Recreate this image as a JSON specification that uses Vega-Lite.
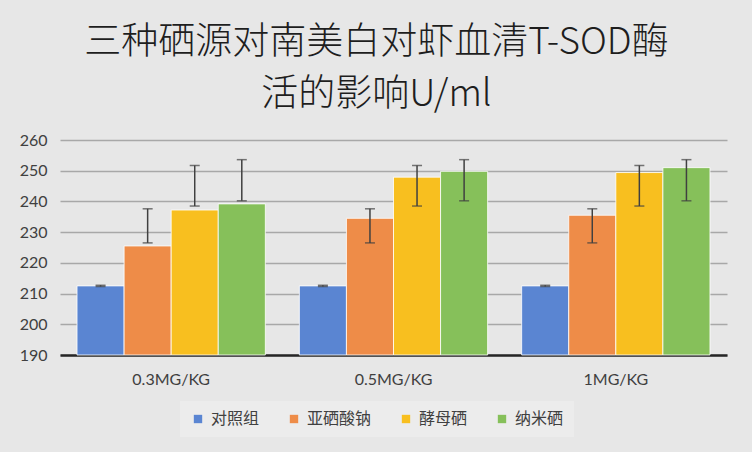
{
  "$schema": "https://vega.github.io/schema/vega-lite/v6.json",
  "width": 667,
  "height": 215,
  "autosize": {"type": "none"},
  "padding": {"left": 60, "top": 140, "right": 25, "bottom": 97},
  "background": "#e7e7e7",
  "title": {
    "text": ["三种硒源对南美白对虾血清T-SOD酶", "活的影响U/ml"],
    "font": "Noto Sans CJK SC",
    "fontSize": 37,
    "fontWeight": 300,
    "color": "#1e1e1e",
    "anchor": "middle",
    "frame": "group",
    "dx": -17,
    "offset": 18,
    "lineHeight": 52
  },
  "config": {
    "view": {"stroke": null},
    "axis": {"labelFont": "Lato", "labelFontSize": 16, "labelColor": "#404040"}
  },
  "data": {
    "values": [
      {"dose": "0.3MG/KG", "group": "对照组", "value": 212.5, "lo": 212.3, "hi": 212.7},
      {"dose": "0.3MG/KG", "group": "亚硒酸钠", "value": 225.5, "lo": 226.5, "hi": 237.6},
      {"dose": "0.3MG/KG", "group": "酵母硒", "value": 237.2, "lo": 238.5, "hi": 251.7},
      {"dose": "0.3MG/KG", "group": "纳米硒", "value": 239.2, "lo": 240.2, "hi": 253.6},
      {"dose": "0.5MG/KG", "group": "对照组", "value": 212.5, "lo": 212.3, "hi": 212.7},
      {"dose": "0.5MG/KG", "group": "亚硒酸钠", "value": 234.5, "lo": 226.5, "hi": 237.6},
      {"dose": "0.5MG/KG", "group": "酵母硒", "value": 247.9, "lo": 238.5, "hi": 251.7},
      {"dose": "0.5MG/KG", "group": "纳米硒", "value": 249.8, "lo": 240.2, "hi": 253.6},
      {"dose": "1MG/KG", "group": "对照组", "value": 212.5, "lo": 212.3, "hi": 212.7},
      {"dose": "1MG/KG", "group": "亚硒酸钠", "value": 235.5, "lo": 226.5, "hi": 237.6},
      {"dose": "1MG/KG", "group": "酵母硒", "value": 249.4, "lo": 238.5, "hi": 251.7},
      {"dose": "1MG/KG", "group": "纳米硒", "value": 251.0, "lo": 240.2, "hi": 253.6}
    ]
  },
  "encoding": {
    "x": {
      "field": "dose",
      "type": "nominal",
      "sort": ["0.3MG/KG", "0.5MG/KG", "1MG/KG"],
      "scale": {"paddingInner": 0.153, "paddingOuter": 0.0766},
      "axis": {
        "title": null,
        "labelAngle": 0,
        "domainColor": "#262626",
        "domainWidth": 2.5,
        "ticks": false,
        "labelPadding": 16,
        "grid": false
      }
    },
    "xOffset": {
      "field": "group",
      "type": "nominal",
      "sort": ["对照组", "亚硒酸钠", "酵母硒", "纳米硒"],
      "scale": {"paddingInner": 0, "paddingOuter": 0}
    }
  },
  "layer": [
    {
      "mark": {"type": "bar", "stroke": "#ffffff", "strokeWidth": 1, "strokeOpacity": 0.8},
      "encoding": {
        "y": {
          "field": "value",
          "type": "quantitative",
          "scale": {"domain": [190, 260], "nice": false, "zero": false},
          "axis": {
            "title": null,
            "values": [190, 200, 210, 220, 230, 240, 250, 260],
            "tickCount": 8,
            "labelOverlap": false,
            "domain": false,
            "ticks": false,
            "labelPadding": 13,
            "gridColor": "#a8a8a8",
            "gridWidth": 1.3
          }
        },
        "y2": {"datum": 190},
        "color": {
          "field": "group",
          "type": "nominal",
          "sort": ["对照组", "亚硒酸钠", "酵母硒", "纳米硒"],
          "scale": {
            "domain": ["对照组", "亚硒酸钠", "酵母硒", "纳米硒"],
            "range": ["#5a85d2", "#ee8c48", "#f8bf1f", "#86c05a"]
          },
          "legend": {
            "title": null,
            "orient": "none",
            "direction": "horizontal",
            "legendX": 120,
            "legendY": 261,
            "fillColor": "#ececec",
            "padding": 10,
            "symbolType": "square",
            "symbolSize": 70,
            "symbolStrokeWidth": 0,
            "labelFont": "Noto Sans CJK SC",
            "labelFontSize": 16,
            "labelColor": "#404040",
            "columnPadding": 26,
            "labelOffset": 5
          }
        }
      }
    },
    {
      "mark": {"type": "rule", "color": "#404040", "strokeWidth": 1.5},
      "encoding": {
        "y": {
          "field": "lo",
          "type": "quantitative",
          "scale": {"domain": [190, 260], "nice": false, "zero": false}
        },
        "y2": {"field": "hi"}
      }
    },
    {
      "mark": {"type": "tick", "color": "#404040", "size": 10, "thickness": 1.5},
      "encoding": {
        "y": {
          "field": "lo",
          "type": "quantitative",
          "scale": {"domain": [190, 260], "nice": false, "zero": false}
        }
      }
    },
    {
      "mark": {"type": "tick", "color": "#404040", "size": 10, "thickness": 1.5},
      "encoding": {
        "y": {
          "field": "hi",
          "type": "quantitative",
          "scale": {"domain": [190, 260], "nice": false, "zero": false}
        }
      }
    }
  ]
}
